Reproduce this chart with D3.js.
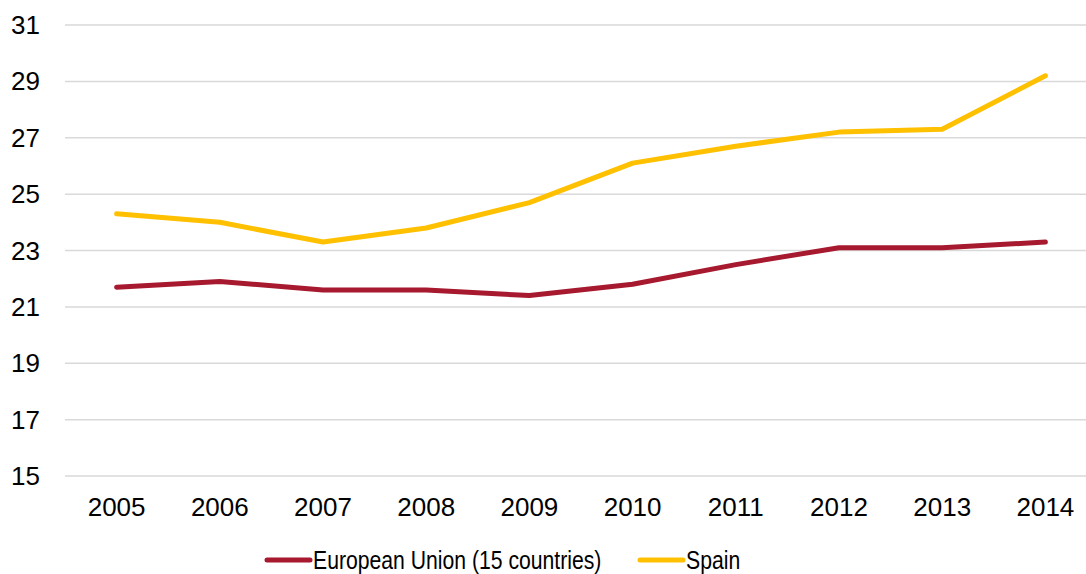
<!DOCTYPE html>
<html>
<head>
<meta charset="utf-8">
<script src="https://cdn.jsdelivr.net/npm/d3@7"></script>
<style>
  body { margin: 0; background: #fff; }
  svg { display: block; font-family: "Liberation Sans", Arial, sans-serif; }
</style>
</head>
<body>
<svg id="chart" width="1086" height="574"></svg>
<script>
const years = ["2005", "2006", "2007", "2008", "2009", "2010", "2011", "2012", "2013", "2014"];
const euValues = [21.7, 21.9, 21.6, 21.6, 21.4, 21.8, 22.5, 23.1, 23.1, 23.3];
const spainValues = [24.3, 24.0, 23.3, 23.8, 24.7, 26.1, 26.7, 27.2, 27.3, 29.2];
const yTicks = [15, 17, 19, 21, 23, 25, 27, 29, 31];

const series = [
  { name: "European Union (15 countries)", values: euValues, color: "#A6192E" },
  { name: "Spain", values: spainValues, color: "#FFC000" }
];

const svg = d3.select("#chart");

const x = d3.scaleBand().domain(years).range([65, 1097]);
const y = d3.scaleLinear().domain([15, 31]).range([476, 25]);

// gridlines
svg.selectAll("line.grid")
  .data(yTicks)
  .join("line")
  .attr("class", "grid")
  .attr("x1", 65).attr("x2", 1097)
  .attr("y1", d => y(d)).attr("y2", d => y(d))
  .attr("stroke", "#d9d9d9")
  .attr("stroke-width", 1.5);

// y labels
svg.selectAll("text.ylab")
  .data(yTicks)
  .join("text")
  .attr("class", "ylab")
  .attr("x", 40)
  .attr("y", d => y(d))
  .attr("dy", "0.35em")
  .attr("text-anchor", "end")
  .attr("font-size", 26)
  .attr("fill", "#000")
  .text(d => d);

// x labels
svg.selectAll("text.xlab")
  .data(years)
  .join("text")
  .attr("class", "xlab")
  .attr("x", d => x(d) + x.bandwidth() / 2)
  .attr("y", 516)
  .attr("text-anchor", "middle")
  .attr("font-size", 26)
  .attr("fill", "#000")
  .text(d => d);

const line = d3.line()
  .x((d, i) => x(years[i]) + x.bandwidth() / 2)
  .y(d => y(d));

svg.selectAll("path.series")
  .data(series)
  .join("path")
  .attr("class", "series")
  .attr("d", d => line(d.values))
  .attr("fill", "none")
  .attr("stroke", d => d.color)
  .attr("stroke-width", 5)
  .attr("stroke-linecap", "round")
  .attr("stroke-linejoin", "round");

// legend
const legendX = [267, 640];
const lg = svg.selectAll("g.legend")
  .data(series)
  .join("g")
  .attr("class", "legend")
  .attr("transform", (d, i) => `translate(${legendX[i]}, 560)`);

lg.append("line")
  .attr("x1", 0).attr("x2", 43)
  .attr("stroke", d => d.color)
  .attr("stroke-width", 5)
  .attr("stroke-linecap", "round");

lg.append("text")
  .attr("transform", "translate(46,0) scale(0.815,1)")
  .attr("y", 9)
  .attr("font-size", 26)
  .attr("fill", "#000")
  .text(d => d.name);
</script>
</body>
</html>
